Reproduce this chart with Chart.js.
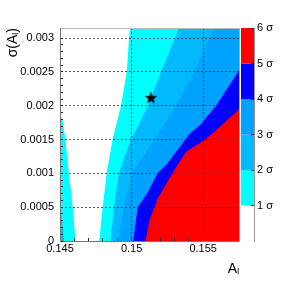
<!DOCTYPE html>
<html>
<head>
<meta charset="utf-8">
<script src="https://cdn.jsdelivr.net/npm/chart.js@4/dist/chart.umd.min.js"></script>
<style>
  html, body { margin: 0; padding: 0; background: #fff; }
</style>
</head>
<body>
<canvas id="c" width="299" height="284"></canvas>
<script>
// axis ranges
const xMin = 0.145, xMax = 0.1575;
const yMin = 0, yMax = 0.00315;

// contour levels (sigma) and the band colours above each level
const levels = [1, 2, 3, 4, 5];
const levelColors = ['#00ffff', '#00b9ff', '#00a2ff', '#0000ff', '#ff0000'];
const barMax = 6;

// contour edges, listed top to bottom
const c1x = [0.14989, 0.14982, 0.14966, 0.14926, 0.14868, 0.14826, 0.14798, 0.14774];
const c1y = [0.00315, 0.0030, 0.0025, 0.0020, 0.00151, 0.00101, 0.00050, 0];
const c1Lx = [0.145, 0.14518, 0.14537, 0.14561, 0.14589, 0.14608];
const c1Ly = [0.00186, 0.00179, 0.00151, 0.00101, 0.00050, 0];
const c2x = [0.15331, 0.15205, 0.15115, 0.15052, 0.14996, 0.14912, 0.14877, 0.14853];
const c2y = [0.00315, 0.0025, 0.0020, 0.00173, 0.00151, 0.00101, 0.00050, 0];
const c2Lx = [0.145, 0.14514, 0.14528];
const c2Ly = [0.00065, 0.00031, 0];
const c3x = [0.15575, 0.15436, 0.1531, 0.15163, 0.15003, 0.14947, 0.14905];
const c3y = [0.00315, 0.0025, 0.0020, 0.00151, 0.00101, 0.00050, 0];
const c4x = [0.1575, 0.15589, 0.15485, 0.15403, 0.1524, 0.15184, 0.15115, 0.15043, 0.1501];
const c4y = [0.00252, 0.0020, 0.00173, 0.00158, 0.00112, 0.00101, 0.00073, 0.00050, 0];
const c5x = [0.1575, 0.15575, 0.15506, 0.1538, 0.15287, 0.15182, 0.15129, 0.15108, 0.15098];
const c5y = [0.00195, 0.00161, 0.00149, 0.00132, 0.00101, 0.00063, 0.00033, 0.00013, 0];

// best fit point
const starX = [0.15135];
const starY = [0.00212];

const FONT = '"Liberation Sans", Arial, Helvetica, sans-serif';
Chart.defaults.font.family = FONT;
Chart.defaults.color = '#000';

const isMult = (v, step) => {
  const r = v / step;
  return Math.abs(r - Math.round(r)) < 1e-6;
};

// close an edge against the right or left frame to get a filled region
const region = (xs, ys, side) => {
  const pts = xs.map((x, i) => ({ x: x, y: ys[i] }));
  const ex = side === 'right' ? xMax : xMin;
  pts.push({ x: ex, y: yMin }, { x: ex, y: ys[0] });
  return pts;
};

const bands = [
  { lvl: 0, data: region(c1x, c1y, 'right') },
  { lvl: 0, data: region(c1Lx, c1Ly, 'left') },
  { lvl: 1, data: region(c2x, c2y, 'right') },
  { lvl: 1, data: region(c2Lx, c2Ly, 'left') },
  { lvl: 2, data: region(c3x, c3y, 'right') },
  { lvl: 3, data: region(c4x, c4y, 'right') },
  { lvl: 4, data: region(c5x, c5y, 'right') }
];

const makeStar = ( r ) => {
  const c = document.createElement('canvas');
  const s = Math.ceil(r * 2 + 2);
  c.width = c.height = s;
  const g = c.getContext('2d');
  g.translate(s / 2, s / 2 + 0.5);
  g.beginPath();
  for (let i = 0; i < 10; i++) {
    const rad = i % 2 ? r * 0.42 : r;
    const a = -Math.PI / 2 + i * Math.PI / 5;
    g.lineTo(rad * Math.cos(a), rad * Math.sin(a));
  }
  g.closePath();
  g.fillStyle = '#000';
  g.fill();
  return c;
};

const datasets = bands.map(b => ({
  data: b.data,
  backgroundColor: levelColors[b.lvl],
  borderColor: 'transparent',
  borderWidth: 0,
  pointRadius: 0,
  fill: 'shape',
  order: 10 - b.lvl
}));
datasets.push({
  data: starX.map((x, i) => ({ x: x, y: starY[i] })),
  showLine: false,
  pointStyle: makeStar(6.5),
  pointRadius: 6,
  order: 0
});

// palette drawn beside the frame, positioned by the z scale
const colorBar = {
  id: 'colorBar',
  beforeDatasetsDraw( chart ) {
    const z = chart.scales.z;
    const bar = chart.scales.zbar;
    const ctx = chart.ctx;
    ctx.save();
    levels.forEach((lv, i) => {
      const top = z.getPixelForValue(Math.min(lv + 1, barMax));
      const bottom = z.getPixelForValue(lv);
      ctx.fillStyle = levelColors[i];
      ctx.fillRect(bar.left + 2, top, bar.right - bar.left - 2, bottom - top);
    });
    ctx.restore();
  }
};

const gridColor = 'rgba(0,0,0,0.65)';

new Chart(document.getElementById('c'), {
  type: 'line',
  data: { datasets: datasets },
  plugins: [colorBar],
  options: {
    responsive: false,
    animation: false,
    layout: { padding: { top: 28, left: 0, right: 0, bottom: 0 } },
    plugins: {
      legend: { display: false },
      tooltip: { enabled: false }
    },
    scales: {
      x: {
        type: 'linear',
        position: 'bottom',
        min: xMin,
        max: xMax,
        afterFit: s => { s.height = 43; },
        border: { color: '#777', width: 1, dash: [2, 2], z: 1 },
        grid: {
          z: 1,
          lineWidth: 1,
          color: ctx => {
            const v = ctx.tick && ctx.tick.value;
            return ctx.tick && isMult(v, 0.005) && v > xMin + 1e-9 && v < xMax - 1e-9 ? gridColor : 'transparent';
          },
          tickLength: -3,
          tickColor: ctx => ctx.tick && isMult(ctx.tick.value, 0.001) ? '#222' : 'transparent',
          tickBorderDash: []
        },
        ticks: {
          z: 1,
          stepSize: 0.001,
          autoSkip: false,
          maxRotation: 0,
          padding: 4,
          font: { size: 11 },
          callback: v => isMult(v, 0.005) ? String(+v.toFixed(3)) : ''
        },
        title: {
          display: true,
          text: 'Aₗ',
          align: 'end',
          font: { size: 14 },
          padding: { top: 0, bottom: 6 }
        }
      },
      xt: {
        type: 'linear',
        position: 'top',
        afterFit: s => { s.height = 0; },
        ticks: { display: false },
        grid: { display: false },
        border: { color: '#bbb', width: 1, z: 1 }
      },
      y: {
        type: 'linear',
        position: 'left',
        min: yMin,
        max: yMax,
        afterFit: s => { s.width = 60; },
        border: { color: '#777', width: 1, dash: [2, 2], z: 1 },
        grid: {
          z: 1,
          lineWidth: 1,
          color: ctx => {
            const v = ctx.tick && ctx.tick.value;
            return ctx.tick && isMult(v, 0.0005) && v > yMin + 1e-9 && v < yMax - 1e-9 ? gridColor : 'transparent';
          },
          tickLength: -3,
          tickColor: ctx => ctx.tick && isMult(ctx.tick.value, 0.0001) ? '#222' : 'transparent',
          tickBorderDash: []
        },
        ticks: {
          z: 1,
          stepSize: 0.0001,
          autoSkip: false,
          padding: 9,
          font: { size: 11 },
          callback: v => isMult(v, 0.0005) ? String(+v.toFixed(4)) : ''
        },
        title: {
          display: true,
          text: 'σ(Aₗ)',
          align: 'end',
          font: { size: 14 },
          padding: { top: 5, bottom: 0 }
        }
      },
      zbar: {
        type: 'linear',
        position: 'right',
        weight: 0,
        afterFit: s => { s.width = 15; },
        ticks: { display: false },
        grid: { display: false },
        border: { color: '#aaa', width: 1, z: 1 }
      },
      z: {
        type: 'linear',
        position: 'right',
        weight: 1,
        min: 0,
        max: barMax,
        afterFit: s => { s.width = 45; },
        border: { color: '#999', width: 1, z: 1 },
        grid: {
          z: 1,
          drawOnChartArea: false,
          tickLength: -3,
          tickColor: ctx => ctx.tick && ctx.tick.value > 0 ? '#222' : 'transparent'
        },
        ticks: {
          z: 1,
          stepSize: 1,
          autoSkip: false,
          padding: 6,
          font: { size: 11 },
          callback: v => v > 0 ? v + ' σ' : ''
        }
      }
    }
  }
});
</script>
</body>
</html>
